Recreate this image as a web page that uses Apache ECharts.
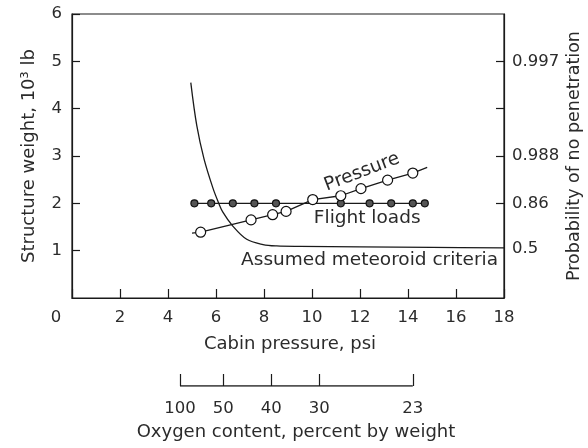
<!DOCTYPE html>
<html>
<head>
<meta charset="utf-8">
<script src="https://cdn.jsdelivr.net/npm/echarts@6/dist/echarts.min.js"></script>
<style>
html,body{margin:0;padding:0;background:#fff;}
#c{width:588px;height:448px;}
</style>
</head>
<body>
<div id="c"></div>
<script>
// ---- data ----
const flightX = [5.1, 5.8, 6.7, 7.6, 8.5, 11.2, 12.4, 13.3, 14.2, 14.7];
const flightY = [2.0, 2.0, 2.0, 2.0, 2.0, 2.0, 2.0, 2.0, 2.0, 2.0];

const pressureX = [5.0, 5.36, 7.46, 8.36, 8.92, 10.03, 11.2, 12.04, 13.15, 14.2, 14.8];
const pressureY = [1.37, 1.39, 1.65, 1.76, 1.83, 2.08, 2.16, 2.31, 2.49, 2.64, 2.76];
const pressureMarked = [false, true, true, true, true, true, true, true, true, true, false];

const meteorX = [4.95, 5.2, 5.5, 5.88, 6.1, 6.28, 6.7, 7.28, 7.96, 8.53, 9.5, 12, 15, 18];
const meteorY = [4.55, 3.64, 2.94, 2.31, 2.02, 1.82, 1.52, 1.24, 1.13, 1.1, 1.09, 1.08, 1.07, 1.06];

const rightTickVals = [2, 3, 4, 5];
const rightLabelVals = [5, 3, 2, 1.05];
const rightLabels = ['0.997', '0.988', '0.86', '0.5'];

const oxyPos = [4.5, 6.3, 8.3, 10.3, 14.2];
const oxyLabels = ['100', '50', '40', '30', '23'];

const annoText = ['Pressure', 'Flight loads', 'Assumed meteoroid criteria'];
const annoX = [12.08, 12.3, 12.4];
const annoY = [2.66, 1.69, 0.79];
const annoRot = [21, 0, 0];

// ---- chart ----
const FONT = '"DejaVu Sans", sans-serif';
const TXT = '#2b2b2b';
const LINE = '#1a1a1a';
const fs = 16.5;
const tfs = 18;
const afs = 18.5;

const chart = echarts.init(document.getElementById('c'), null, {renderer: 'canvas'});

function lookup(vals, labels, v) {
  for (let i = 0; i < vals.length; i++) if (Math.abs(vals[i] - v) < 1e-6) return labels[i];
  return '';
}

const option = {
  animation: false,
  backgroundColor: '#fff',
  textStyle: {fontFamily: FONT, color: TXT},
  grid: [
    {left: 72, right: 84, top: 14, bottom: 150, show: true, outerBoundsMode: 'none',
     borderColor: LINE, borderWidth: 1.2, backgroundColor: 'transparent'},
    {left: 72, right: 84, top: 366, bottom: 62, show: false, outerBoundsMode: 'none'}
  ],
  xAxis: [
    {
      type: 'value', gridIndex: 0, min: 0, max: 18, interval: 2,
      name: 'Cabin pressure, psi', nameLocation: 'middle', nameGap: 37,
      nameTextStyle: {fontFamily: FONT, fontSize: tfs, color: TXT, padding: [0, 0, 0, 4]},
      axisLine: {show: true, lineStyle: {color: LINE, width: 1.2}},
      axisTick: {show: true, inside: true, length: 9, lineStyle: {color: LINE, width: 1.2}},
      axisLabel: {
        fontFamily: FONT, fontSize: fs, color: TXT, margin: 11,
        formatter: function (v) { return v === 0 ? '{z|0}' : String(v); },
        rich: {z: {fontFamily: FONT, fontSize: fs, color: TXT, padding: [0, 32, 0, 0]}}
      },
      splitLine: {show: false}
    },
    {
      type: 'value', gridIndex: 1, min: 0, max: 18, position: 'bottom',
      name: 'Oxygen content, percent by weight', nameLocation: 'middle', nameGap: 37,
      nameTextStyle: {fontFamily: FONT, fontSize: tfs, color: TXT, padding: [0, 0, 0, 16]},
      axisLine: {show: false},
      axisTick: {show: true, inside: true, length: 12, customValues: oxyPos, lineStyle: {color: LINE, width: 1.2}},
      axisLabel: {
        fontFamily: FONT, fontSize: fs, color: TXT, margin: 14, customValues: oxyPos,
        formatter: function (v) { return lookup(oxyPos, oxyLabels, v); }
      },
      splitLine: {show: false}
    }
  ],
  yAxis: [
    {
      type: 'value', gridIndex: 0, min: 0, max: 6, interval: 1, position: 'left',
      name: 'Structure weight, 10³ lb', nameLocation: 'middle', nameGap: 34, nameRotate: 90,
      nameTextStyle: {fontFamily: FONT, fontSize: tfs, color: TXT},
      axisLine: {show: true, lineStyle: {color: LINE, width: 1.2}},
      axisTick: {show: true, inside: true, length: 8, lineStyle: {color: LINE, width: 1.2}},
      axisLabel: {fontFamily: FONT, fontSize: fs, color: TXT, margin: 10, showMinLabel: false},
      splitLine: {show: false}
    },
    {
      type: 'value', gridIndex: 0, min: 0, max: 6, interval: 1, position: 'right',
      name: 'Probability of no penetration', nameLocation: 'middle', nameGap: 61, nameRotate: 90,
      nameMoveOverlap: false,
      nameTextStyle: {fontFamily: FONT, fontSize: 17.5, color: TXT},
      axisLine: {show: true, lineStyle: {color: LINE, width: 1.2}},
      axisTick: {show: true, inside: true, length: 8, customValues: rightTickVals, lineStyle: {color: LINE, width: 1.2}},
      axisLabel: {
        fontFamily: FONT, fontSize: fs, color: TXT, margin: 8, customValues: rightLabelVals,
        formatter: function (v) { return lookup(rightLabelVals, rightLabels, v); }
      },
      splitLine: {show: false}
    },
    {type: 'value', gridIndex: 1, min: 0, max: 1, show: false}
  ],
  series: [
    {
      name: 'meteoroid', type: 'line', xAxisIndex: 0, yAxisIndex: 0,
      data: meteorX.map((x, i) => [x, meteorY[i]]),
      smooth: 0.35, showSymbol: false, symbol: 'none',
      lineStyle: {color: LINE, width: 1.3}, z: 2
    },
    {
      name: 'flight', type: 'line', xAxisIndex: 0, yAxisIndex: 0,
      data: flightX.map((x, i) => [x, flightY[i]]),
      symbol: 'circle', symbolSize: 7,
      itemStyle: {color: '#555', borderColor: '#111', borderWidth: 1.2},
      lineStyle: {color: LINE, width: 1.3}, z: 3
    },
    {
      name: 'pressure', type: 'line', xAxisIndex: 0, yAxisIndex: 0,
      data: pressureX.map((x, i) => pressureMarked[i]
        ? {value: [x, pressureY[i]]}
        : {value: [x, pressureY[i]], symbol: 'none'}),
      symbol: 'circle', symbolSize: 10, showAllSymbol: true,
      itemStyle: {color: '#fff', borderColor: '#111', borderWidth: 1.2},
      lineStyle: {color: LINE, width: 1.3}, z: 4
    },
    {
      name: 'oxyBase', type: 'line', xAxisIndex: 1, yAxisIndex: 2,
      data: [[oxyPos[0], 0], [oxyPos[oxyPos.length - 1], 0]],
      symbol: 'none', lineStyle: {color: LINE, width: 1.4}
    }
  ]
};

chart.setOption(option);

const graphics = annoText.map((t, i) => {
  const p = chart.convertToPixel({xAxisIndex: 0, yAxisIndex: 0}, [annoX[i], annoY[i]]);
  return {
    type: 'text', x: p[0], y: p[1], rotation: annoRot[i] * Math.PI / 180, z: 10,
    style: {text: t, fontFamily: FONT, fontSize: afs, fill: TXT, align: 'center', verticalAlign: 'middle'}
  };
});
chart.setOption({graphic: graphics});
</script>
</body>
</html>
